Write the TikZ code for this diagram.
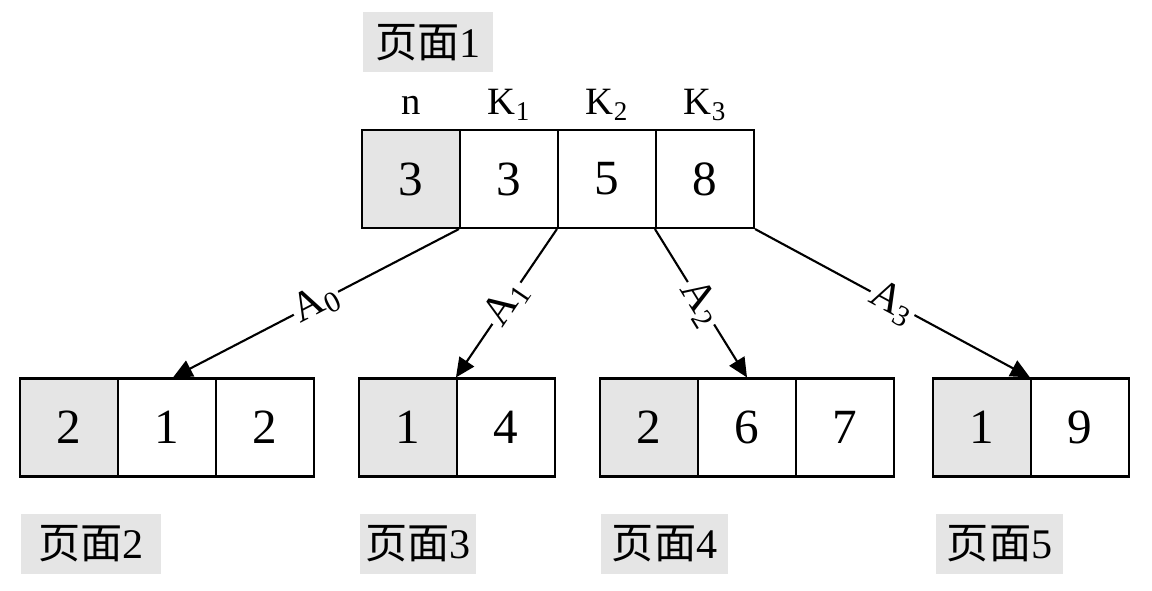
\documentclass[tikz,border=0pt]{standalone}
\usepackage{fontspec}
\setmainfont{Liberation Serif}
\newfontfamily\cjk{Noto Sans CJK SC}
\usetikzlibrary{arrows.meta, calc}

\begin{document}
\begin{tikzpicture}[>={Triangle[length=11pt, width=10pt]}, line width=1.2pt,
  every node/.style={font=\fontsize{28}{32}\selectfont},
  cell/.style={draw, line width=1.2pt, minimum width=1.96cm, minimum height=1.96cm, inner sep=0pt},
  cntcell/.style={cell, fill=black!10},
  fieldname/.style={anchor=base, font=\fontsize{22}{26}\selectfont},
  pagelabel/.style={anchor=west, fill=black!10, minimum height=1.2cm, inner xsep=3pt, font=\fontsize{24}{28}\selectfont},
  ptrname/.style={midway, sloped, fill=white, inner sep=1pt, font=\fontsize{24}{28}\selectfont}]
  \useasboundingbox (0,0) rectangle (23.04,11.8);
  % page 1 (root)
  \node[pagelabel, minimum width=2.6cm] (label1) at (7.24,10.95) {{\cjk 页面}1};
  \node[cntcell] (page1n) at (8.22,8.22) {3};
  \node[cell] (page1k1) at (10.18,8.22) {3};
  \node[cell] (page1k2) at (12.14,8.22) {5};
  \node[cell] (page1k3) at (14.10,8.22) {8};
  \node[fieldname] (fieldn) at (8.22,9.5) {n};
  \node[fieldname] (fieldk1) at (10.18,9.5) {K\textsubscript{1}};
  \node[fieldname] (fieldk2) at (12.14,9.5) {K\textsubscript{2}};
  \node[fieldname] (fieldk3) at (14.10,9.5) {K\textsubscript{3}};
  % page 2
  \node[cntcell] (page2n) at (1.38,3.25) {2};
  \node[cell] (page2k1) at (3.34,3.25) {1};
  \node[cell] (page2k2) at (5.30,3.25) {2};
  \node[pagelabel, minimum width=2.8cm] (label2) at (0.40,0.92) {{\cjk 页面}2};
  % page 3
  \node[cntcell] (page3n) at (8.16,3.25) {1};
  \node[cell] (page3k1) at (10.12,3.25) {4};
  \node[pagelabel, minimum width=2.32cm] (label3) at (7.18,0.92) {{\cjk 页面}3};
  % page 4
  \node[cntcell] (page4n) at (12.98,3.25) {2};
  \node[cell] (page4k1) at (14.94,3.25) {6};
  \node[cell] (page4k2) at (16.90,3.25) {7};
  \node[pagelabel, minimum width=2.54cm] (label4) at (12.00,0.92) {{\cjk 页面}4};
  % page 5
  \node[cntcell] (page5n) at (19.64,3.25) {1};
  \node[cell] (page5k1) at (21.60,3.25) {9};
  \node[pagelabel, minimum width=2.54cm] (label5) at (18.70,0.92) {{\cjk 页面}5};
  % pointers
  \draw[->] (page1k1.south west) -- ($(page2k1.north)+(0.12,0)$) node[ptrname] {A\textsubscript{0}};
  \draw[->] (page1k2.south west) -- (page3k1.north west) node[ptrname] {A\textsubscript{1}};
  \draw[->] (page1k3.south west) -- (page4k1.north) node[ptrname] {A\textsubscript{2}};
  \draw[->] (page1k3.south east) -- (page5k1.north west) node[ptrname] {A\textsubscript{3}};
\end{tikzpicture}
\end{document}
